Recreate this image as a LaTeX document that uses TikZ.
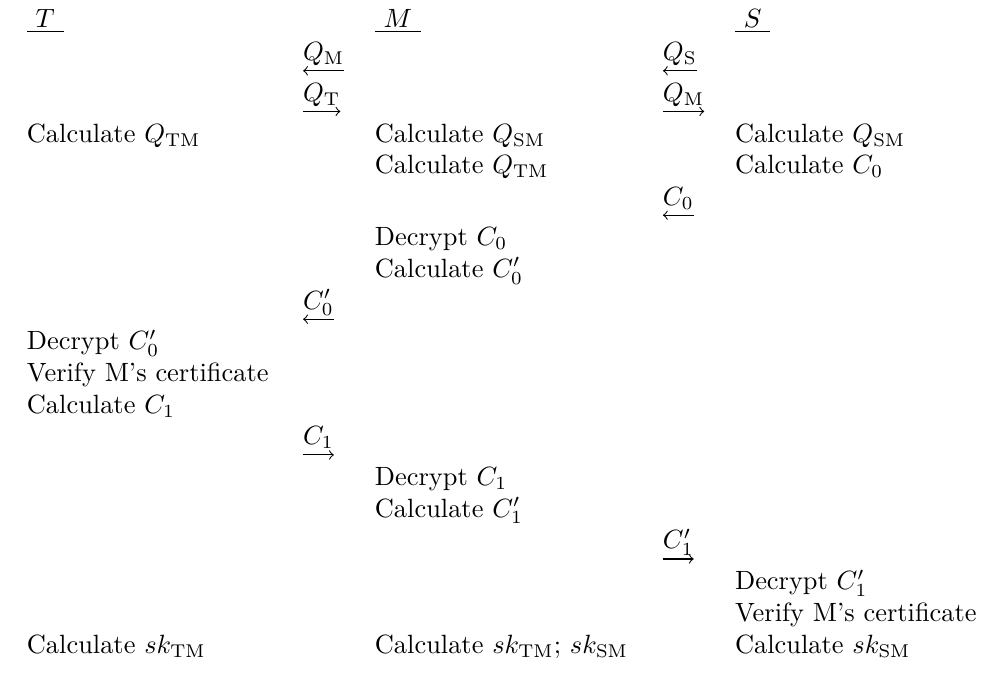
\documentclass[tikz,border=0pt]{standalone}
\usepackage{amsmath}
\usetikzlibrary{calc}
\tikzset{
  txt/.style={anchor=base west, inner sep=0pt, outer sep=0pt},
  msg/.style={line width=0.4pt, -to},
  msgl/.style={line width=0.4pt, to-},
}
\newcommand{\ydown}{3.8pt}
\begin{document}
\begin{tikzpicture}[x=1pt,y=1pt]
\useasboundingbox (0,0) rectangle (372.3,-263.3);
% column positions
\def\xT{10.2}
\def\xA{114.8}
\def\xM{142.0}
\def\xB{251.1}
\def\xS{278.4}
% headers
\node[txt] (hT) at (\xT,-10.4) {\underline{\ $T$\ }};
\node[txt] (hM) at (\xM,-10.4) {\underline{\ $M$\ }};
\node[txt] (hS) at (\xS,-10.4) {\underline{\ $S$\ }};
% row 2 arrows
\node[txt] (m1) at (\xA,-23.0) {$Q_{\mathrm{M}}$};
\node[txt] (m2) at (\xB,-23.0) {$Q_{\mathrm{S}}$};
% row 3 arrows
\node[txt] (m3) at (\xA,-38.4) {$Q_{\mathrm{T}}$};
\node[txt] (m4) at (\xB,-38.4) {$Q_{\mathrm{M}}$};
% row 4
\node[txt] (t1) at (\xT,-54.0) {Calculate $Q_{\mathrm{TM}}$};
\node[txt] (u1) at (\xM,-54.0) {Calculate $Q_{\mathrm{SM}}$};
\node[txt] (s1) at (\xS,-54.0) {Calculate $Q_{\mathrm{SM}}$};
% row 5
\node[txt] (u2) at (\xM,-65.8) {Calculate $Q_{\mathrm{TM}}$};
\node[txt] (s2) at (\xS,-65.8) {Calculate $C_0$};
% row 6
\node[txt] (m5) at (\xB,-77.7) {$C_0$};
% rows 7-8
\node[txt] (u3) at (\xM,-93.1) {Decrypt $C_0$};
\node[txt] (u4) at (\xM,-105.1) {Calculate $C'_0$};
% row 9
\node[txt] (m6) at (\xA,-117.1) {$C'_0$};
% rows 10-12
\node[txt] (t2) at (\xT,-132.5) {Decrypt $C'_0$};
\node[txt] (t3) at (\xT,-144.5) {Verify M's certificate};
\node[txt] (t4) at (\xT,-156.5) {Calculate $C_1$};
% row 13
\node[txt] (m7) at (\xA,-168.5) {$C_1$};
% rows 14-15
\node[txt] (u5) at (\xM,-183.9) {Decrypt $C_1$};
\node[txt] (u6) at (\xM,-195.9) {Calculate $C'_1$};
% row 16
\node[txt] (m8) at (\xB,-207.9) {$C'_1$};
% rows 17-19
\node[txt] (s3) at (\xS,-223.4) {Decrypt $C'_1$};
\node[txt] (s4) at (\xS,-235.4) {Verify M's certificate};
\node[txt] (t5) at (\xT,-247.4) {Calculate $sk_{\mathrm{TM}}$};
\node[txt] (u7) at (\xM,-247.4) {Calculate $sk_{\mathrm{TM}}$; $sk_{\mathrm{SM}}$};
\node[txt] (s5) at (\xS,-247.4) {Calculate $sk_{\mathrm{SM}}$};
% message arrows
\draw[msgl] ([yshift=-\ydown]m1.base west) -- ([yshift=-\ydown]m1.base east);
\draw[msgl] ([yshift=-\ydown]m2.base west) -- ([yshift=-\ydown]m2.base east);
\draw[msg]  ([yshift=-\ydown]m3.base west) -- ([yshift=-\ydown]m3.base east);
\draw[msg]  ([yshift=-\ydown]m4.base west) -- ([yshift=-\ydown]m4.base east);
\draw[msgl] ([yshift=-\ydown]m5.base west) -- ([yshift=-\ydown]m5.base east);
\draw[msgl] ([yshift=-\ydown]m6.base west) -- ([yshift=-\ydown]m6.base east);
\draw[msg]  ([yshift=-\ydown]m7.base west) -- ([yshift=-\ydown]m7.base east);
\draw[msg]  ([yshift=-\ydown]m8.base west) -- ([yshift=-\ydown]m8.base east);
\end{tikzpicture}
\end{document}
